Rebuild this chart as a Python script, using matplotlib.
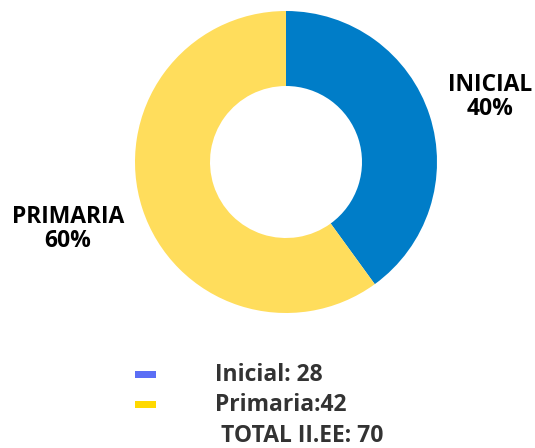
import matplotlib.pyplot as plt
from matplotlib.patches import Rectangle

plt.rcParams['font.family'] = ['Open Sans', 'DejaVu Sans']

# datos
niveles = ['INICIAL', 'PRIMARIA']
cantidades = [28, 42]
porcentajes = ['40%', '60%']
leyenda = ['Inicial: 28', 'Primaria:42']
total_txt = 'TOTAL II.EE: 70'
colores = ['#007DC8', '#FFDD5C']
colores_leyenda = ['#5B6EF5', '#FFD900']

W, H = 535, 448
fig = plt.figure(figsize=(W / 100, H / 100), dpi=100)
ax = fig.add_axes([0, 0, 1, 1])
ax.set_xlim(0, W)
ax.set_ylim(0, H)
ax.set_aspect('equal')
ax.axis('off')

# dona
ax.pie(cantidades, colors=colores, startangle=90, counterclock=False,
       center=(286, H - 162), radius=151,
       wedgeprops=dict(width=75, linewidth=0))
ax.set_xlim(0, W)
ax.set_ylim(0, H)

# etiquetas
pos_lbl = [(490, H - 97), (68, H - 229)]
for nom, pct, (x, y) in zip(niveles, porcentajes, pos_lbl):
    ax.text(x, y, nom + '\n' + pct, ha='center', va='center', fontsize=16.5,
            fontweight='bold', color='black', linespacing=1.05)

# leyenda
ys = [H - 375, H - 405]
for txt, c, y in zip(leyenda, colores_leyenda, ys):
    ax.add_patch(Rectangle((135, y - 3), 21, 7, color=c, linewidth=0))
    ax.text(215, y, txt, ha='left', va='center', fontsize=16.5,
            fontweight='bold', color='#333333')
ax.text(221, H - 436, total_txt, ha='left', va='center', fontsize=16.5,
        fontweight='bold', color='#333333')

fig.savefig('out.png', dpi=100)
